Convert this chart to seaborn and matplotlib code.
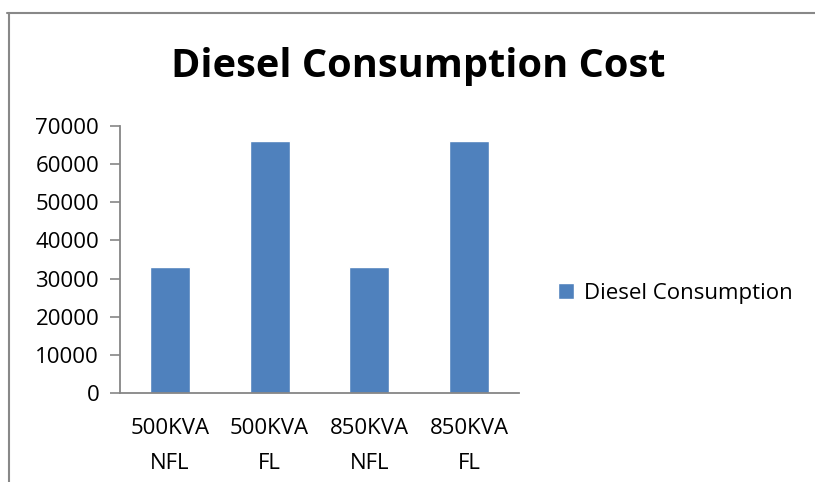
import matplotlib
matplotlib.use("Agg")
import matplotlib.pyplot as plt
import seaborn as sns
import pandas as pd
from matplotlib.lines import Line2D

categories = ["500KVA\nNFL", "500KVA\nFL", "850KVA\nNFL", "850KVA\nFL"]
values = [33000, 66000, 33000, 66000]
series_name = "Diesel Consumption"
title = "Diesel Consumption Cost"
yticks = [0, 10000, 20000, 30000, 40000, 50000, 60000, 70000]

sns.set_theme(style="white")
plt.rcParams['font.family'] = ['Open Sans', 'DejaVu Sans']
plt.rcParams['text.color'] = 'black'
plt.rcParams['xtick.color'] = 'black'
plt.rcParams['ytick.color'] = 'black'

W, H = 815, 482
fig = plt.figure(figsize=(W / 100, H / 100), dpi=100)
ax = fig.add_axes([120 / W, 1 - 393 / H, (519 - 120) / W, (393 - 126) / H])

df = pd.DataFrame({"cat": categories, "val": values})
sns.barplot(data=df, x="cat", y="val", color="#4F81BD", width=0.4,
            saturation=1, ax=ax, label=series_name, legend=False)

ax.set_xlim(-0.5, len(categories) - 0.5)
ax.set_ylim(0, 70000)
ax.set_yticks(yticks)
ax.set_yticklabels([str(v) for v in yticks], fontsize=16)
ax.set_xticks(range(len(categories)))
ax.set_xticklabels(categories, fontsize=16, linespacing=1.85)
ax.set_xticks([i - 0.5 for i in range(len(categories) + 1)], minor=True)
ax.tick_params(axis="x", which="major", length=0, pad=18)
ax.tick_params(axis="x", which="minor", length=7, width=1.2, color="#868686", direction="out")
ax.tick_params(axis="y", length=7, width=1.2, color="#868686", labelcolor="black",
               direction="out", left=True, pad=8)
ax.tick_params(axis="x", labelcolor="black")
ax.set_xlabel("")
ax.set_ylabel("")
for s in ["top", "right"]:
    ax.spines[s].set_visible(False)
for s in ["left", "bottom"]:
    ax.spines[s].set_color("#868686")
    ax.spines[s].set_linewidth(1.3)

fig.text(418 / W, 1 - 66 / H, title, ha="center", va="center",
         fontsize=28.6, fontweight="bold", color="black")

h, l = ax.get_legend_handles_labels()
if ax.get_legend() is not None:
    ax.get_legend().remove()
leg = fig.legend(h, l, loc="center left", bbox_to_anchor=(558 / W, 1 - 293 / H),
                 frameon=False, fontsize=16, handlelength=0.7, handleheight=0.7,
                 handletextpad=0.45, borderpad=0, borderaxespad=0)

# outer border (top and left lines)
fig.add_artist(Line2D([7 / W, 1], [1 - 12.5 / H, 1 - 12.5 / H], transform=fig.transFigure,
                      color="#888888", lw=1.5))
fig.add_artist(Line2D([9 / W, 9 / W], [0, 1 - 12.5 / H], transform=fig.transFigure,
                      color="#888888", lw=1.5))

fig.savefig("out.png", dpi=100)
